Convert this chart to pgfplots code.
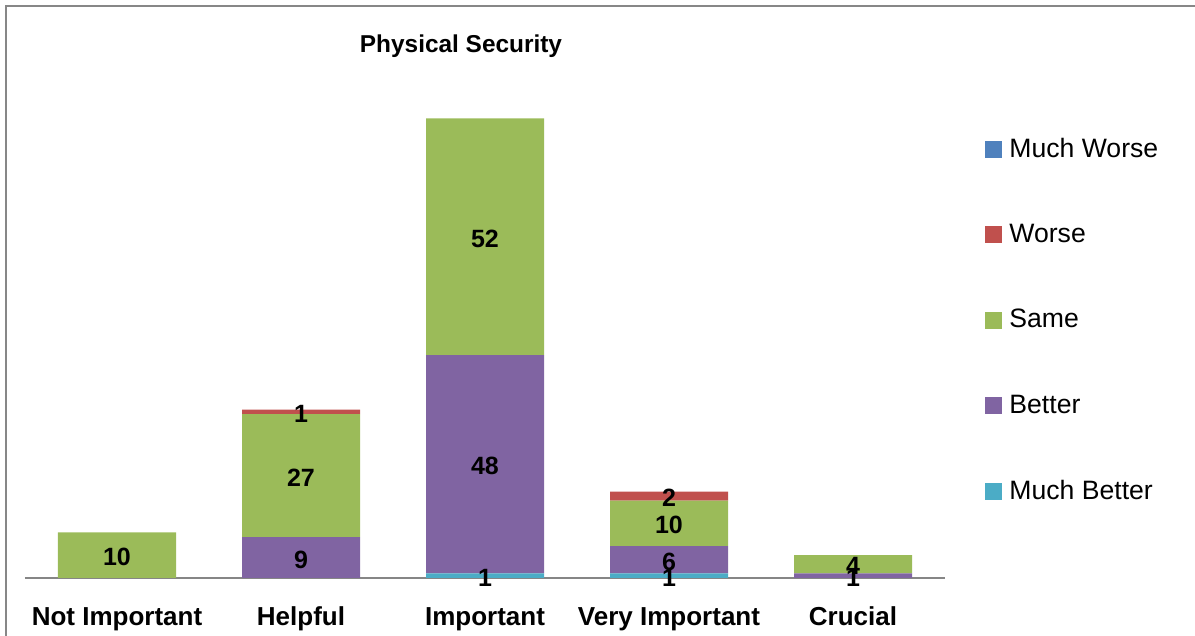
\documentclass[border=0pt]{standalone}
\usepackage{pgfplots}
\usepackage{pgfplotstable}
\pgfplotsset{compat=1.18}
\usepackage{fontspec}
\setmainfont{Liberation Sans}

\definecolor{muchworse}{HTML}{4F81BD}
\definecolor{worse}{HTML}{C0504D}
\definecolor{same}{HTML}{9BBB59}
\definecolor{better}{HTML}{8064A2}
\definecolor{muchbetter}{HTML}{4BACC6}
\definecolor{framegray}{HTML}{878787}
\definecolor{axisgray}{HTML}{868686}

% responses per importance level (0 = Not Important ... 4 = Crucial)
\pgfplotstableread{
idx muchbetter better same worse muchworse
0   0          0      10   0     0
1   0          9      27   1     0
2   1          48     52   0     0
3   1          6      10   2     0
4   0          1      4    0     0
}\physdata

\begin{document}
\begin{tikzpicture}
\path[use as bounding box] (0pt,0pt) rectangle (597.5pt,318pt);
\clip (0pt,0pt) rectangle (597.5pt,318pt);
% chart frame
\draw[framegray, line width=1pt] (3pt,-10pt) -- (3pt,315pt) -- (610pt,315pt);
\node[font=\bfseries\fontsize{12.2}{14}\selectfont] at (230.5pt,295pt) {Physical Security};
\begin{axis}[
  at={(12.5pt,29pt)}, anchor=south west,
  scale only axis, width=460pt, height=250.25pt,
  xmin=-0.5, xmax=4.5, ymin=0, ymax=110,
  ybar stacked, bar width=59pt,
  axis x line*=bottom, axis y line=none,
  x axis line style={draw=axisgray, line width=1pt, -},
  xtick={0,...,4},
  xticklabels={Not Important, Helpful, Important, Very Important, Crucial},
  xtick style={draw=none},
  xticklabel style={font=\bfseries\fontsize{13}{15}\selectfont, anchor=base, yshift=-24pt},
  clip=false,
  /pgf/number format/assume math mode=true,
  nodes near coords={\pgfmathfloatifflags{\pgfplotspointmeta}{0}{}{\pgfmathprintnumber{\pgfplotspointmeta}}},
  % labels sit in the middle of their segment
  every node near coord/.append style={font=\bfseries\fontsize{12.5}{14}\selectfont, text=black, anchor=center, yshift=-1pt},
  reverse legend,
  legend cell align=left,
  legend image code/.code={\fill[#1] (0pt,-4.25pt) rectangle (8.5pt,4.25pt);},
  legend style={at={(axis description cs:1.0435,0.888)}, anchor=north west,
    draw=none, fill=none, font=\fontsize{13.3}{14.5}\selectfont,
    row sep=27.95pt, inner sep=0pt,
    /tikz/every odd column/.append style={column sep=1.5pt}},
]
\addplot[fill=muchbetter, draw=none] table[x=idx, y=muchbetter] {\physdata};
\addplot[fill=better, draw=none] table[x=idx, y=better] {\physdata};
\addplot[fill=same, draw=none] table[x=idx, y=same] {\physdata};
\addplot[fill=worse, draw=none] table[x=idx, y=worse] {\physdata};
\addplot[fill=muchworse, draw=none] table[x=idx, y=muchworse] {\physdata};
\legend{Much Better, Better, Same, Worse, Much Worse}
\end{axis}
\end{tikzpicture}
\end{document}
